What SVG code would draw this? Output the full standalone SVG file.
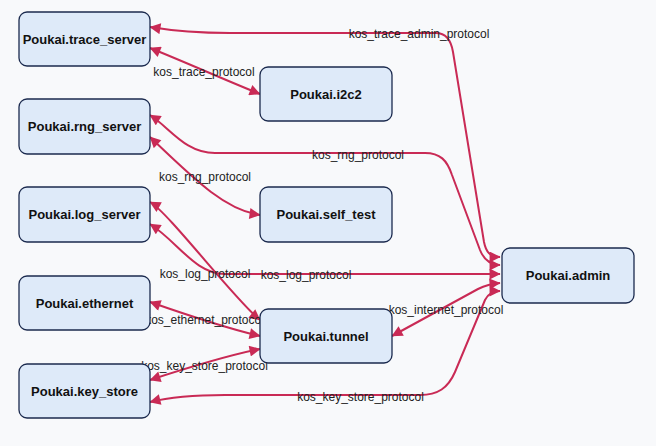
<svg xmlns="http://www.w3.org/2000/svg" width="656" height="446" viewBox="0 0 656 446">
<style>
.node rect{fill:#deeaf9;stroke:#1b2a4e;stroke-width:1.3}
.node text{font-family:"Liberation Sans",Arial,sans-serif;font-size:13px;font-weight:bold;fill:#111;text-anchor:middle}
.edge{fill:none;stroke:#c92a55;stroke-width:2;marker-start:url(#ah);marker-end:url(#ah)}
.lbl{font-family:"Liberation Sans",Arial,sans-serif;font-size:12px;fill:#222;text-anchor:middle}
</style>
<defs>
<marker id="ah" viewBox="0 0 10 10" refX="9.5" refY="5" markerUnits="userSpaceOnUse" markerWidth="12" markerHeight="11" orient="auto-start-reverse">
<path d="M0,0 L10,5 L0,10 z" fill="#c92a55"/>
</marker>
</defs>
<rect x="0" y="0" width="656" height="446" fill="#f8f9fb"/>
<g id="connectors">
<path class="edge" d="M150,27 C180,32 200,33 230,33 L436,33 C446,33 451,40 453,52 L484,242 C486,252 490,257 500,257"/>
<path class="edge" d="M150,48 C185,62 225,80 260,94"/>
<path class="edge" d="M150,115 C170,128 185,153 215,153 L425,153 C440,153 447,160 452,175 L480,250 C484,260 490,265 500,265"/>
<path class="edge" d="M150,137 C195,180 225,210 260,215"/>
<path class="edge" d="M150,202 C168,212 235,300 260,320"/>
<path class="edge" d="M150,224 C178,242 195,274 225,274 L500,274"/>
<path class="edge" d="M150,302 C190,316 225,328 260,336"/>
<path class="edge" d="M150,380 C190,367 225,356 260,349"/>
<path class="edge" d="M150,402 C170,397 190,395 225,395 L420,395 C438,395 448,388 455,372 L485,300 C488,294 492,291 500,291"/>
<path class="edge" d="M392,336 L478,289 Q488,284 500,283"/>
<text class="lbl" x="419" y="38">kos_trace_admin_protocol</text>
<text class="lbl" x="204" y="76">kos_trace_protocol</text>
<text class="lbl" x="358" y="159">kos_rng_protocol</text>
<text class="lbl" x="205" y="181">kos_rng_protocol</text>
<text class="lbl" x="205" y="278">kos_log_protocol</text>
<text class="lbl" x="306" y="279">kos_log_protocol</text>
<text class="lbl" x="204.5" y="324">kos_ethernet_protocol</text>
<text class="lbl" x="446" y="314">kos_internet_protocol</text>
<text class="lbl" x="204.5" y="370">kos_key_store_protocol</text>
<text class="lbl" x="360.5" y="401">kos_key_store_protocol</text>
</g>
<g id="trace_server" class="node"><rect x="19" y="12" width="131" height="54" rx="8"/><text x="84.5" y="43.5">Poukai.trace_server</text></g>
<g id="rng_server" class="node"><rect x="19" y="99" width="131" height="55" rx="8"/><text x="84.5" y="131">Poukai.rng_server</text></g>
<g id="log_server" class="node"><rect x="19" y="187" width="131" height="55" rx="8"/><text x="84.5" y="219">Poukai.log_server</text></g>
<g id="ethernet" class="node"><rect x="19" y="276" width="131" height="54" rx="8"/><text x="84.5" y="307.5">Poukai.ethernet</text></g>
<g id="key_store" class="node"><rect x="19" y="364" width="131" height="54" rx="8"/><text x="84.5" y="395.5">Poukai.key_store</text></g>
<g id="i2c2" class="node"><rect x="260" y="67" width="132" height="54" rx="8"/><text x="326" y="98.5">Poukai.i2c2</text></g>
<g id="self_test" class="node"><rect x="260" y="187" width="132" height="55" rx="8"/><text x="326" y="219">Poukai.self_test</text></g>
<g id="tunnel" class="node"><rect x="260" y="309" width="132" height="54" rx="8"/><text x="326" y="340.5">Poukai.tunnel</text></g>
<g id="admin" class="node"><rect x="502" y="248" width="132" height="55" rx="8"/><text x="568" y="280">Poukai.admin</text></g>
</svg>
